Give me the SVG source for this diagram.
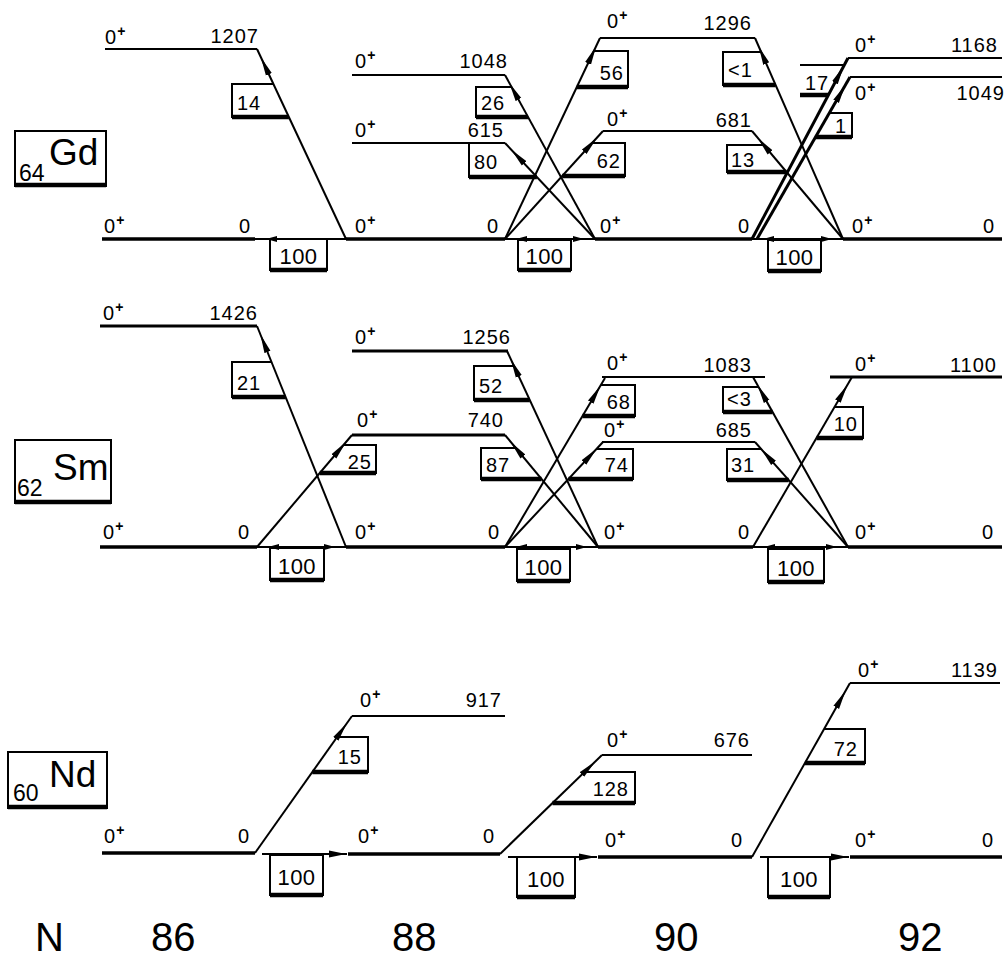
<svg xmlns="http://www.w3.org/2000/svg" width="1006" height="959" viewBox="0 0 1006 959">
<style>
text{font-family:"Liberation Sans",Arial,sans-serif;fill:#000}
.t{font-size:20px;letter-spacing:1px}
.e{font-size:20px;letter-spacing:1px;text-anchor:end}
.sp{font-size:14px;font-weight:bold}
.c{font-size:22px;letter-spacing:0.5px;text-anchor:middle}
.big{font-size:37px}
.sub{font-size:23px}
.ax{font-size:40px}
.g{stroke:#000;stroke-width:3.5;fill:none}
.x{stroke:#000;stroke-width:2;fill:none}
.xt{stroke:#000;stroke-width:3;fill:none}
.d{stroke:#000;stroke-width:2;fill:none;marker-end:url(#dh)}
.dt{stroke:#000;stroke-width:3;fill:none;marker-end:url(#dh)}
.h1{stroke:#000;stroke-width:2;fill:none;marker-end:url(#hb)}
.h2{stroke:#000;stroke-width:2;fill:none;marker-start:url(#hb);marker-end:url(#hb)}
.h3{stroke:#000;stroke-width:2;fill:none;marker-end:url(#ah)}
.b{stroke:#000;stroke-width:2;fill:none}
.bb{stroke:#000;stroke-width:4.5;fill:none}
.lb{stroke:#000;stroke-width:2;fill:#fff}
</style>
<defs>
<marker id="ah" markerUnits="userSpaceOnUse" viewBox="0 0 20 8" markerWidth="20" markerHeight="8" refX="18" refY="4" orient="auto"><path d="M0,0.5 L17,4 L0,7.5z" fill="#000"/></marker>
<marker id="hb" markerUnits="userSpaceOnUse" viewBox="0 0 24 8" markerWidth="24" markerHeight="8" refX="22" refY="4" orient="auto-start-reverse"><path d="M0,1 L11,4 L0,7z" fill="#000"/></marker>
<marker id="dh" markerUnits="userSpaceOnUse" viewBox="0 0 30 8" markerWidth="30" markerHeight="8" refX="28" refY="4" orient="auto"><path d="M0,0.8 L19,4 L0,7.2z" fill="#000"/></marker>
</defs>
<rect width="1006" height="959" fill="#fff"/>

<!-- element labels -->
<g id="label-gd"><rect class="lb" x="15" y="131" width="91" height="55"/><path class="bb" d="M15,185 H106"/><text class="sub" x="19" y="181">64</text><text class="big" x="49" y="165">Gd</text></g>
<g id="label-sm"><rect class="lb" x="15" y="440" width="96" height="63"/><path class="bb" d="M15,502 H111"/><text class="sub" x="17" y="496">62</text><text class="big" x="53" y="480">Sm</text></g>
<g id="label-nd"><rect class="lb" x="8" y="752" width="99" height="56"/><path class="bb" d="M8,807 H107"/><text class="sub" x="13" y="801">60</text><text class="big" x="49" y="787">Nd</text></g>

<!-- connectors -->
<g id="connectors">
<!-- Gd -->
<path class="d" d="M346,239 L257,49"/>
<path class="d" d="M595,239 L505,75"/>
<path class="d" d="M595,239 L505,143"/>
<path class="d" d="M505,239 L600,38"/>
<path class="d" d="M505,239 L603,131"/>
<path class="d" d="M843,239 L755,38"/>
<path class="d" d="M843,239 L752,131"/>
<path class="dt" d="M752,239 L848,58"/>
<path class="dt" d="M757,239 L850,77"/>
<path class="h1" d="M346,239 H255"/>
<path class="h2" d="M505,239 H595"/>
<path class="h2" d="M752,239 H843"/>
<!-- Sm -->
<path class="d" d="M346,547 L257,326"/>
<path class="d" d="M257,547 L352,435"/>
<path class="d" d="M598,547 L507,351"/>
<path class="d" d="M598,547 L505,435"/>
<path class="d" d="M505,547 L605,378"/>
<path class="d" d="M505,547 L603,442"/>
<path class="d" d="M848,547 L753,377"/>
<path class="d" d="M848,547 L755,442"/>
<path class="d" d="M753,547 L852,377"/>
<path class="h2" d="M257,547 H346"/>
<path class="h2" d="M505,547 H598"/>
<path class="h2" d="M753,547 H848"/>
<!-- Nd -->
<path class="d" d="M255,853 L352,716"/>
<path class="d" d="M500,854 L602,755"/>
<path class="d" d="M752,857 L850,683"/>
<path class="h3" d="M262,854 H347"/>
<path class="h3" d="M508,857 H597"/>
<path class="h3" d="M760,857 H849"/>
</g>

<!-- transition strength boxes -->
<g id="strengths">
<g id="s-gd-14"><path class="b" d="M273.4,84 H232 V117 H288.9"/><path class="bb" d="M232,117 H288.9"/><text class="t" x="237" y="110">14</text></g>
<g id="s-gd-26"><path class="b" d="M511.6,87 H476 V117 H528"/><path class="bb" d="M476,117 H528"/><text class="t" x="481" y="110">26</text></g>
<g id="s-gd-80"><path class="b" d="M505,143 H469 V177 H536.9"/><path class="bb" d="M469,177 H536.9"/><text class="t" x="474" y="169">80</text></g>
<g id="s-gd-56"><path class="b" d="M593.9,51 H628 V87 H576.8"/><path class="bb" d="M628,87 H576.8"/><text class="e" x="624" y="80">56</text></g>
<g id="s-gd-62"><path class="b" d="M592.1,143 H625 V176 H562.2"/><path class="bb" d="M625,176 H562.2"/><text class="e" x="621" y="168">62</text></g>
<g id="s-gd-lt1"><path class="b" d="M761.1,52 H723 V85 H775.5"/><path class="bb" d="M723,85 H775.5"/><text class="t" x="728" y="77">&lt;1</text></g>
<g id="s-gd-13"><path class="b" d="M763.8,145 H727 V172 H786.5"/><path class="bb" d="M727,172 H786.5"/><text class="t" x="731" y="167">13</text></g>
<g id="s-gd-17"><path class="b" d="M800,65 H844.3"/><path class="bb" d="M800,95 H828.4"/><text class="t" x="805" y="90">17</text></g>
<g id="s-gd-1"><path class="b" d="M829.3,113 H852 V137 H815.6"/><path class="bb" d="M852,137 H815.6"/><text class="e" x="847" y="133">1</text></g>
<g id="s-gd-100a"><rect class="b" x="270" y="239" width="57" height="31"/><path class="bb" d="M270,270 H327"/><text class="c" x="298.5" y="264">100</text></g>
<g id="s-gd-100b"><rect class="b" x="518" y="240" width="53" height="30"/><path class="bb" d="M518,270 H571"/><text class="c" x="544.5" y="264">100</text></g>
<g id="s-gd-100c"><rect class="b" x="768" y="240" width="53" height="31"/><path class="bb" d="M768,271 H821"/><text class="c" x="794.5" y="265">100</text></g>

<g id="s-sm-21"><path class="b" d="M271.5,362 H232 V397 H285.6"/><path class="bb" d="M232,397 H285.6"/><text class="t" x="237" y="390">21</text></g>
<g id="s-sm-25"><path class="b" d="M343.5,445 H376 V473 H319.8"/><path class="bb" d="M376,473 H319.8"/><text class="e" x="372" y="469">25</text></g>
<g id="s-sm-52"><path class="b" d="M514,366 H474 V400 H529.8"/><path class="bb" d="M474,400 H529.8"/><text class="t" x="479" y="393">52</text></g>
<g id="s-sm-87"><path class="b" d="M515.8,448 H481 V479 H541.5"/><path class="bb" d="M481,479 H541.5"/><text class="t" x="486" y="472">87</text></g>
<g id="s-sm-68"><path class="b" d="M600.9,385 H635 V416 H582.5"/><path class="bb" d="M635,416 H582.5"/><text class="e" x="631" y="409">68</text></g>
<g id="s-sm-74"><path class="b" d="M596.5,449 H633 V479 H568.5"/><path class="bb" d="M633,479 H568.5"/><text class="e" x="629" y="472">74</text></g>
<g id="s-sm-lt3"><path class="b" d="M758.6,387 H723 V412 H772.5"/><path class="bb" d="M723,412 H772.5"/><text class="t" x="727" y="406">&lt;3</text></g>
<g id="s-sm-31"><path class="b" d="M761.2,449 H727 V480 H788.7"/><path class="bb" d="M727,480 H788.7"/><text class="t" x="731" y="472">31</text></g>
<g id="s-sm-10"><path class="b" d="M834.5,407 H863 V438 H816.5"/><path class="bb" d="M863,438 H816.5"/><text class="e" x="858" y="431">10</text></g>
<g id="s-sm-100a"><rect class="b" x="270" y="548" width="54" height="32"/><path class="bb" d="M270,580 H324"/><text class="c" x="297" y="574">100</text></g>
<g id="s-sm-100b"><rect class="b" x="517" y="549" width="53" height="32"/><path class="bb" d="M517,581 H570"/><text class="c" x="543.5" y="575">100</text></g>
<g id="s-sm-100c"><rect class="b" x="768" y="549" width="56" height="33"/><path class="bb" d="M768,582 H824"/><text class="c" x="796" y="576">100</text></g>

<g id="s-nd-15"><path class="b" d="M337.1,737 H368 V772 H312.3"/><path class="bb" d="M368,772 H312.3"/><text class="e" x="362" y="764">15</text></g>
<g id="s-nd-128"><path class="b" d="M584.5,772 H635 V803 H552.5"/><path class="bb" d="M635,803 H552.5"/><text class="e" x="629" y="796">128</text></g>
<g id="s-nd-72"><path class="b" d="M824.1,729 H865 V763 H804.9"/><path class="bb" d="M865,763 H804.9"/><text class="e" x="858" y="756">72</text></g>
<g id="s-nd-100a"><rect class="b" x="270" y="855" width="53" height="40"/><path class="bb" d="M270,895 H323"/><text class="c" x="296.5" y="885">100</text></g>
<g id="s-nd-100b"><rect class="b" x="517" y="857" width="58" height="40"/><path class="bb" d="M517,897 H575"/><text class="c" x="546" y="887">100</text></g>
<g id="s-nd-100c"><rect class="b" x="768" y="857" width="62" height="40"/><path class="bb" d="M768,897 H830"/><text class="c" x="799" y="887">100</text></g>
</g>

<!-- Gd levels -->
<g id="gd86-1207"><path class="x" d="M105,49 H257"/><text class="t" x="105" y="44">0<tspan class="sp" dy="-8">+</tspan></text><text class="e" x="259" y="43">1207</text></g>
<g id="gd86-0"><path class="g" d="M102,239 H255"/><text class="t" x="104" y="233">0<tspan class="sp" dy="-8">+</tspan></text><text class="e" x="251" y="233">0</text></g>
<g id="gd88-1048"><path class="x" d="M352,75 H505"/><text class="t" x="355" y="68">0<tspan class="sp" dy="-8">+</tspan></text><text class="e" x="508" y="68">1048</text></g>
<g id="gd88-615"><path class="x" d="M352,143 H505"/><text class="t" x="355" y="137">0<tspan class="sp" dy="-8">+</tspan></text><text class="e" x="504" y="137">615</text></g>
<g id="gd88-0"><path class="g" d="M346,239 H505"/><text class="t" x="355" y="233">0<tspan class="sp" dy="-8">+</tspan></text><text class="e" x="499" y="233">0</text></g>
<g id="gd90-1296"><path class="x" d="M600,38 H755"/><text class="t" x="607" y="28">0<tspan class="sp" dy="-8">+</tspan></text><text class="e" x="752" y="30">1296</text></g>
<g id="gd90-681"><path class="x" d="M603,131 H752"/><text class="t" x="607" y="126">0<tspan class="sp" dy="-8">+</tspan></text><text class="e" x="752" y="127">681</text></g>
<g id="gd90-0"><path class="g" d="M595,239 H752"/><text class="t" x="600" y="233">0<tspan class="sp" dy="-8">+</tspan></text><text class="e" x="750" y="233">0</text></g>
<g id="gd92-1168"><path class="x" d="M848,58 H1002"/><text class="t" x="855" y="52">0<tspan class="sp" dy="-8">+</tspan></text><text class="e" x="998" y="52">1168</text></g>
<g id="gd92-1049"><path class="x" d="M850,77 H1002"/><text class="t" x="855" y="100">0<tspan class="sp" dy="-8">+</tspan></text><text class="e" x="1005" y="100">1049</text></g>
<g id="gd92-0"><path class="g" d="M843,239 H1002"/><text class="t" x="852" y="233">0<tspan class="sp" dy="-8">+</tspan></text><text class="e" x="995" y="233">0</text></g>

<!-- Sm levels -->
<g id="sm86-1426"><path class="xt" d="M100,326 H257"/><text class="t" x="103" y="320">0<tspan class="sp" dy="-8">+</tspan></text><text class="e" x="258" y="320">1426</text></g>
<g id="sm86-0"><path class="g" d="M100,547 H257"/><text class="t" x="103" y="539">0<tspan class="sp" dy="-8">+</tspan></text><text class="e" x="250" y="539">0</text></g>
<g id="sm88-1256"><path class="xt" d="M352,351 H508"/><text class="t" x="355" y="344">0<tspan class="sp" dy="-8">+</tspan></text><text class="e" x="511" y="344">1256</text></g>
<g id="sm88-740"><path class="xt" d="M352,435 H505"/><text class="t" x="357" y="427">0<tspan class="sp" dy="-8">+</tspan></text><text class="e" x="504" y="427">740</text></g>
<g id="sm88-0"><path class="g" d="M346,547 H505"/><text class="t" x="355" y="539">0<tspan class="sp" dy="-8">+</tspan></text><text class="e" x="500" y="539">0</text></g>
<g id="sm90-1083"><path class="x" d="M602,377 H765"/><text class="t" x="607" y="370">0<tspan class="sp" dy="-8">+</tspan></text><text class="e" x="752" y="372">1083</text></g>
<g id="sm90-685"><path class="x" d="M602,442 H755"/><text class="t" x="604" y="437">0<tspan class="sp" dy="-8">+</tspan></text><text class="e" x="752" y="437">685</text></g>
<g id="sm90-0"><path class="g" d="M598,547 H753"/><text class="t" x="604" y="539">0<tspan class="sp" dy="-8">+</tspan></text><text class="e" x="750" y="539">0</text></g>
<g id="sm92-1100"><path class="xt" d="M830,377 H1002"/><text class="t" x="855" y="371">0<tspan class="sp" dy="-8">+</tspan></text><text class="e" x="997" y="372">1100</text></g>
<g id="sm92-0"><path class="g" d="M848,547 H1002"/><text class="t" x="855" y="539">0<tspan class="sp" dy="-8">+</tspan></text><text class="e" x="994" y="539">0</text></g>

<!-- Nd levels -->
<g id="nd86-0"><path class="g" d="M102,853 H255"/><text class="t" x="104" y="843">0<tspan class="sp" dy="-8">+</tspan></text><text class="e" x="250" y="843">0</text></g>
<g id="nd88-917"><path class="x" d="M352,716 H505"/><text class="t" x="360" y="707">0<tspan class="sp" dy="-8">+</tspan></text><text class="e" x="502" y="707">917</text></g>
<g id="nd88-0"><path class="g" d="M348,854 H500"/><text class="t" x="358" y="843">0<tspan class="sp" dy="-8">+</tspan></text><text class="e" x="495" y="843">0</text></g>
<g id="nd90-676"><path class="x" d="M602,755 H752"/><text class="t" x="607" y="747">0<tspan class="sp" dy="-8">+</tspan></text><text class="e" x="750" y="747">676</text></g>
<g id="nd90-0"><path class="g" d="M598,857 H752"/><text class="t" x="605" y="847">0<tspan class="sp" dy="-8">+</tspan></text><text class="e" x="743" y="847">0</text></g>
<g id="nd92-1139"><path class="x" d="M850,683 H1000"/><text class="t" x="858" y="677">0<tspan class="sp" dy="-8">+</tspan></text><text class="e" x="998" y="677">1139</text></g>
<g id="nd92-0"><path class="g" d="M850,857 H1002"/><text class="t" x="855" y="847">0<tspan class="sp" dy="-8">+</tspan></text><text class="e" x="994" y="847">0</text></g>

<!-- N axis -->
<g id="axis">
<text class="ax" x="35" y="951">N</text>
<text class="ax" x="151" y="951">86</text>
<text class="ax" x="392" y="951">88</text>
<text class="ax" x="654" y="951">90</text>
<text class="ax" x="898" y="951">92</text>
</g>
</svg>
